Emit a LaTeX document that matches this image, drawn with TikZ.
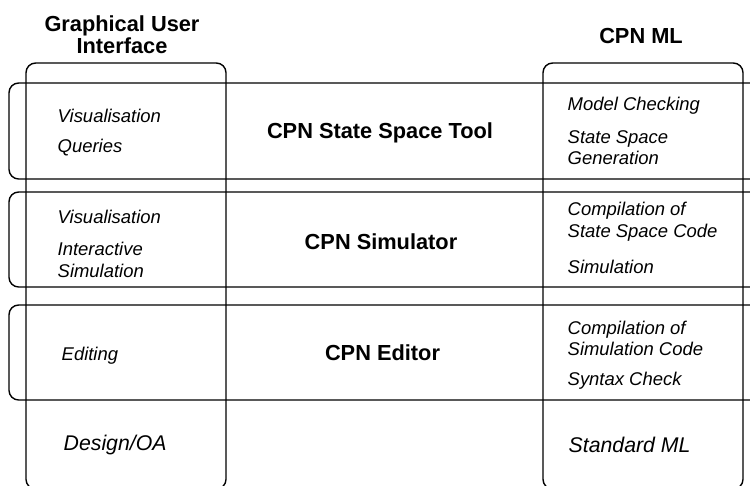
\documentclass[tikz,border=0pt]{standalone}
\usepackage{fontspec}
\setmainfont{Liberation Sans}

\begin{document}
\begin{tikzpicture}[x=0.02cm,y=-0.02cm,line width=0.8pt,
  band/.style={rounded corners=5.5pt},
  tool/.style={align=center,font=\fontsize{12.4}{12.4}\selectfont\bfseries},
  task/.style={anchor=west,align=left,inner sep=0pt,font=\fontsize{10.5}{12.3}\selectfont\itshape},
  lang/.style={anchor=west,inner sep=0pt,font=\fontsize{12.1}{14}\selectfont\itshape}]
\useasboundingbox (0,0) rectangle (750,485);
\draw[band] (26,63) rectangle (226,489);
\draw[band] (543,63) rectangle (743,489);
\foreach \ya/\yb in {83/179,192/287,305/400}
  \draw[band] (770,\ya) -- (9,\ya) -- (9,\yb) -- (770,\yb);
\node[tool] (gui) at (122,35) {Graphical User\\Interface};
\node[tool] (ml) at (641,36) {CPN ML};
\node[tool] (sst) at (380,132.5) {CPN State Space Tool};
\node[tool] (sim) at (381,241.5) {CPN Simulator};
\node[tool] (edit) at (382.5,352.5) {CPN Editor};
\node[task] (vis1) at (57,115.5) {Visualisation};
\node[task] (qry) at (57,147.5) {Queries};
\node[task] (mc) at (567,106) {Model Checking};
\node[task] (ssg) at (567,147.5) {State Space\\Generation};
\node[task] (vis2) at (57,216.5) {Visualisation};
\node[task] (isim) at (57,260) {Interactive\\Simulation};
\node[task] (cssc) at (567,221.5) {Compilation of\\State Space Code};
\node[task] (simu) at (567,266.5) {Simulation};
\node[task] (editing) at (61,355.5) {Editing};
\node[task] (csc) at (567,338.5) {Compilation of\\Simulation Code};
\node[task] (syn) at (567,380.5) {Syntax Check};
\node[lang] (doa) at (63,445) {Design/OA};
\node[lang] (sml) at (568,444.5) {Standard ML};
\end{tikzpicture}
\end{document}
